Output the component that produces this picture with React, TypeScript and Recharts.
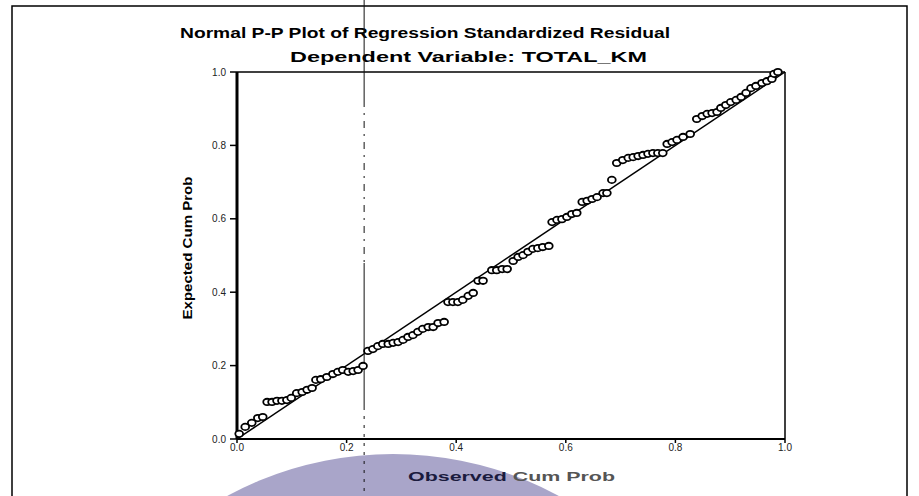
import React from 'react';
import { ScatterChart, Scatter, XAxis, YAxis, ReferenceLine } from 'recharts';

// observed cumulative probability (x)
const OBS_CUM = [
  0.004, 0.015, 0.027, 0.038, 0.047, 0.055, 0.064, 0.073, 0.082, 0.091,
  0.099, 0.109, 0.119, 0.128, 0.137, 0.144, 0.153, 0.164, 0.175, 0.184,
  0.193, 0.203, 0.212, 0.221, 0.230, 0.239, 0.248, 0.257, 0.266, 0.276,
  0.285, 0.294, 0.303, 0.312, 0.321, 0.330, 0.339, 0.349, 0.358, 0.367,
  0.378, 0.385, 0.394, 0.403, 0.412, 0.422, 0.431, 0.440, 0.449, 0.465,
  0.474, 0.484, 0.493, 0.504, 0.513, 0.522, 0.531, 0.540, 0.549, 0.558,
  0.569, 0.575, 0.584, 0.593, 0.602, 0.611, 0.620, 0.630, 0.639, 0.648,
  0.657, 0.668, 0.675, 0.684, 0.693, 0.704, 0.714, 0.723, 0.732, 0.741,
  0.750, 0.759, 0.768, 0.777, 0.785, 0.794, 0.803, 0.814, 0.827, 0.839,
  0.849, 0.858, 0.867, 0.876, 0.883, 0.892, 0.901, 0.911, 0.920, 0.929,
  0.938, 0.947, 0.958, 0.967, 0.976, 0.980, 0.987,
];

// expected cumulative probability (y)
const EXP_CUM = [
  0.014, 0.033, 0.044, 0.057, 0.060, 0.101, 0.101, 0.104, 0.104, 0.106,
  0.112, 0.125, 0.128, 0.134, 0.139, 0.161, 0.163, 0.169, 0.177, 0.183,
  0.188, 0.183, 0.185, 0.188, 0.199, 0.240, 0.245, 0.253, 0.259, 0.259,
  0.262, 0.264, 0.270, 0.278, 0.283, 0.292, 0.300, 0.305, 0.305, 0.316,
  0.319, 0.373, 0.373, 0.373, 0.379, 0.390, 0.398, 0.431, 0.431, 0.460,
  0.460, 0.463, 0.463, 0.485, 0.496, 0.501, 0.510, 0.518, 0.520, 0.523,
  0.526, 0.591, 0.597, 0.599, 0.605, 0.613, 0.616, 0.646, 0.649, 0.654,
  0.659, 0.670, 0.670, 0.706, 0.752, 0.760, 0.766, 0.768, 0.771, 0.774,
  0.777, 0.779, 0.779, 0.779, 0.804, 0.809, 0.815, 0.823, 0.831, 0.872,
  0.880, 0.886, 0.888, 0.891, 0.902, 0.910, 0.918, 0.924, 0.932, 0.943,
  0.956, 0.962, 0.970, 0.975, 0.981, 0.995, 1.0,
];

const AXIS_TICKS = [0, 0.2, 0.4, 0.6, 0.8, 1.0];
const FOLD_X = 0.232; // the scanner's fold line

const W = 919;
const H = 496;
const FONT = '"Liberation Sans", Arial, sans-serif';

const data = OBS_CUM.map((x, i) => ({ x, y: EXP_CUM[i] }));

const Dot = (p: any) => (
  <ellipse cx={p.cx} cy={p.cy} rx={3.9} ry={3.2} fill="#fff" stroke="#000" strokeWidth={1.8} />
);

const FoldLine = (p: any) => {
  const x = p.x1;
  return (
    <g>
      <line x1={x} x2={x} y1={0} y2={100} stroke="#111" strokeWidth={1} />
      <line x1={x} x2={x} y1={100} y2={263} stroke="#111" strokeWidth={1} strokeDasharray="7 6 2 6" />
      <line x1={x} x2={x} y1={263} y2={407} stroke="#111" strokeWidth={1} />
      <line x1={x} x2={x} y1={407} y2={H} stroke="#111" strokeWidth={1} strokeDasharray="3 6" />
    </g>
  );
};

export default function App() {
  return (
    <div style={{ position: 'absolute', left: 0, top: 0, width: W, height: H, overflow: 'hidden', background: '#fff' }}>
      <svg width={W} height={H} style={{ position: 'absolute', left: 0, top: 0 }}>
        <circle cx={393} cy={803} r={349} fill="#a9a5c9" />
        <path d={`M12 ${H} L12 6 L907 6 L907 ${H}`} fill="none" stroke="#000" strokeWidth={1.5} />
        <text x={180} y={38} fontFamily={FONT} fontWeight="bold" fontSize={14} textLength={490} lengthAdjust="spacingAndGlyphs">
          Normal P-P Plot of Regression Standardized Residual
        </text>
        <text x={290} y={62} fontFamily={FONT} fontWeight="bold" fontSize={14} textLength={357} lengthAdjust="spacingAndGlyphs">
          Dependent Variable: TOTAL_KM
        </text>
        <text x={408} y={481} fontFamily={FONT} fontWeight="bold" fontSize={13} textLength={207} lengthAdjust="spacingAndGlyphs">
          <tspan fill="#1b1b3e">Observed </tspan>
          <tspan fill="#555">Cum Prob</tspan>
        </text>
        <text
          x={0}
          y={0}
          transform="translate(192 248) rotate(-90)"
          textAnchor="middle"
          fontFamily={FONT}
          fontWeight="bold"
          fontSize={13}
          textLength={143}
          lengthAdjust="spacingAndGlyphs"
        >
          Expected Cum Prob
        </text>
      </svg>
      <div style={{ position: 'absolute', left: 0, top: 0 }}>
        <ScatterChart width={W} height={H} margin={{ top: 72, right: 134, bottom: 0, left: 0 }}>
          <XAxis
            type="number"
            dataKey="x"
            domain={[0, 1]}
            ticks={AXIS_TICKS}
            tickFormatter={(v: number) => v.toFixed(1)}
            height={57}
            tickSize={4}
            tickMargin={1}
            axisLine={{ stroke: '#000', strokeWidth: 2 }}
            tickLine={{ stroke: '#000', strokeWidth: 1.5 }}
            tick={{ fill: '#222', fontSize: 10, fontFamily: FONT }}
          />
          <YAxis
            type="number"
            dataKey="y"
            domain={[0, 1]}
            ticks={AXIS_TICKS}
            tickFormatter={(v: number) => v.toFixed(1)}
            width={237}
            tickSize={7}
            tickMargin={4}
            axisLine={{ stroke: '#000', strokeWidth: 3 }}
            tickLine={{ stroke: '#000', strokeWidth: 1.5 }}
            tick={{ fill: '#222', fontSize: 10, fontFamily: FONT }}
          />
          <ReferenceLine y={1} stroke="#000" strokeWidth={1.5} />
          <ReferenceLine x={1} stroke="#000" strokeWidth={1.5} />
          <ReferenceLine
            segment={[{ x: 0, y: 0 }, { x: 1, y: 1 }]}
            stroke="#000"
            strokeWidth={1.5}
          />
          <ReferenceLine x={FOLD_X} shape={FoldLine} />
          <Scatter data={data} shape={Dot} isAnimationActive={false} />
        </ScatterChart>
      </div>
    </div>
  );
}
